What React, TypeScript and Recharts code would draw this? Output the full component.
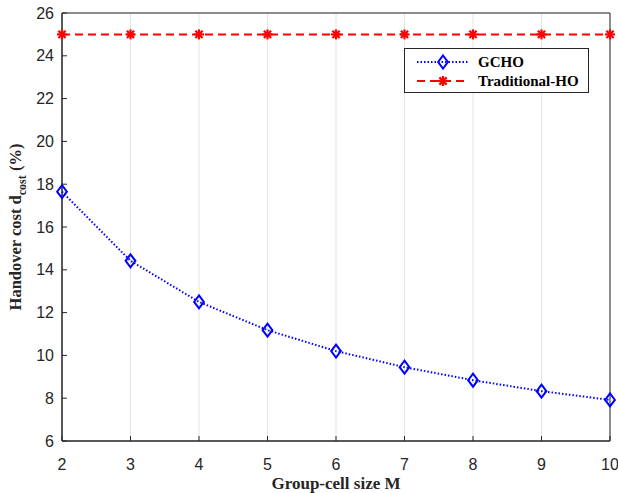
import React from 'react';
import { LineChart, Line, XAxis, YAxis, CartesianGrid, ReferenceArea } from 'recharts';

const groupSizes = [2, 3, 4, 5, 6, 7, 8, 9, 10];
const gchoCost = [17.65, 14.42, 12.5, 11.18, 10.2, 9.45, 8.84, 8.33, 7.92];
const traditionalCost = [25, 25, 25, 25, 25, 25, 25, 25, 25];
const xTicks = [2, 3, 4, 5, 6, 7, 8, 9, 10];
const yTicks = [6, 8, 10, 12, 14, 16, 18, 20, 22, 24, 26];

const data = groupSizes.map((m, i) => ({ m, gcho: gchoCost[i], trad: traditionalCost[i] }));

const BLUE = '#0000ff';
const RED = '#ff0000';
const AX = '#262626';
const TICK_FONT = { fontFamily: '"Liberation Sans", Arial, sans-serif', fontSize: 16, fill: AX };
const LABEL_FONT = '"Liberation Serif", "Times New Roman", serif';

const Diamond = (props: any) => {
  const { cx, cy } = props;
  if (cx == null || cy == null) return null;
  const r = 6.5;
  return (
    <path
      d={`M${cx},${cy - r} L${cx + r * 0.75},${cy} L${cx},${cy + r} L${cx - r * 0.75},${cy} Z`}
      fill="none"
      stroke={BLUE}
      strokeWidth={2}
    />
  );
};

const Asterisk = (props: any) => {
  const { cx, cy } = props;
  if (cx == null || cy == null) return null;
  const r = 5;
  const d = r * 0.72;
  return (
    <g stroke={RED} strokeWidth={2.2}>
      <line x1={cx - r} y1={cy} x2={cx + r} y2={cy} />
      <line x1={cx} y1={cy - r} x2={cx} y2={cy + r} />
      <line x1={cx - d} y1={cy - d} x2={cx + d} y2={cy + d} />
      <line x1={cx - d} y1={cy + d} x2={cx + d} y2={cy - d} />
    </g>
  );
};

const LegendBox = () => (
  <div
    style={{
      position: 'absolute',
      left: 404,
      top: 48,
      width: 185,
      height: 45,
      border: '1px solid ' + AX,
      background: '#fff',
      boxSizing: 'border-box',
    }}
  >
    <svg width={183} height={43} style={{ display: 'block' }}>
      <line x1={12} y1={13} x2={64} y2={13} stroke={BLUE} strokeWidth={2} strokeDasharray="1.5 2" />
      <Diamond cx={38} cy={13} />
      <text x={73} y={18} fontFamily={LABEL_FONT} fontWeight="bold" fontSize={15} fill="#000">GCHO</text>
      <line x1={12} y1={32} x2={64} y2={32} stroke={RED} strokeWidth={2} strokeDasharray="8 5" />
      <Asterisk cx={38} cy={32} />
      <text x={73} y={37} fontFamily={LABEL_FONT} fontWeight="bold" fontSize={15} fill="#000">Traditional-HO</text>
    </svg>
  </div>
);

const YLabel = (props: any) => {
  const vb = props.viewBox || {};
  const cy = (vb.y ?? 13) + (vb.height ?? 428) / 2;
  const cx = 21;
  return (
    <text
      transform={`translate(${cx},${cy}) rotate(-90)`}
      textAnchor="middle"
      fontFamily={LABEL_FONT}
      fontWeight="bold"
      fontSize={16.5}
      fill={AX}
    >
      Handover cost d
      <tspan fontSize={12} dy={5}>cost</tspan>
      <tspan dy={-5}>{'  (%)'}</tspan>
    </text>
  );
};

export default function App() {
  return (
    <div style={{ position: 'absolute', left: 0, top: 0, width: 618, height: 493, background: '#fff' }}>
      <LineChart width={618} height={493} data={data} margin={{ top: 13, right: 8, left: 0, bottom: 0 }}>
        <CartesianGrid stroke="#e4e4e4" strokeWidth={1} />
        <XAxis
          dataKey="m"
          type="number"
          domain={[2, 10]}
          ticks={xTicks}
          xAxisId="bottom"
          height={52}
          axisLine={{ stroke: AX }}
          tickLine={{ stroke: AX }}
          tickSize={-5}
          tickMargin={23}
          tick={TICK_FONT}
          label={{
            value: 'Group-cell size M',
            position: 'insideBottom',
            offset: 4,
            style: { fontFamily: LABEL_FONT, fontWeight: 'bold', fontSize: 17, fill: AX },
          }}
        />
        <XAxis
          dataKey="m"
          type="number"
          domain={[2, 10]}
          ticks={xTicks}
          xAxisId="top"
          orientation="top"
          height={0}
          axisLine={{ stroke: AX }}
          tickLine={{ stroke: AX }}
          tickSize={-5}
          tick={false}
        />
        <YAxis
          yAxisId="left"
          type="number"
          domain={[6, 26]}
          ticks={yTicks}
          width={62}
          axisLine={{ stroke: AX }}
          tickLine={{ stroke: AX }}
          tickSize={-5}
          tickMargin={13}
          tick={TICK_FONT}
          label={<YLabel />}
        />
        <YAxis
          yAxisId="right"
          orientation="right"
          type="number"
          domain={[6, 26]}
          ticks={yTicks}
          width={0}
          axisLine={{ stroke: AX }}
          tickLine={{ stroke: AX }}
          tickSize={-5}
          tick={false}
        />
        <ReferenceArea
          xAxisId="bottom"
          yAxisId="left"
          x1={2}
          x2={10}
          y1={6}
          y2={26}
          fill="none"
          fillOpacity={0}
          stroke={AX}
          strokeWidth={1}
          ifOverflow="visible"
        />
        <Line
          xAxisId="bottom"
          yAxisId="left"
          dataKey="trad"
          stroke={RED}
          strokeWidth={2}
          strokeDasharray="8 5"
          dot={<Asterisk />}
          isAnimationActive={false}
        />
        <Line
          xAxisId="bottom"
          yAxisId="left"
          dataKey="gcho"
          stroke={BLUE}
          strokeWidth={2}
          strokeDasharray="1.5 2"
          dot={<Diamond />}
          isAnimationActive={false}
        />
      </LineChart>
      <LegendBox />
    </div>
  );
}
